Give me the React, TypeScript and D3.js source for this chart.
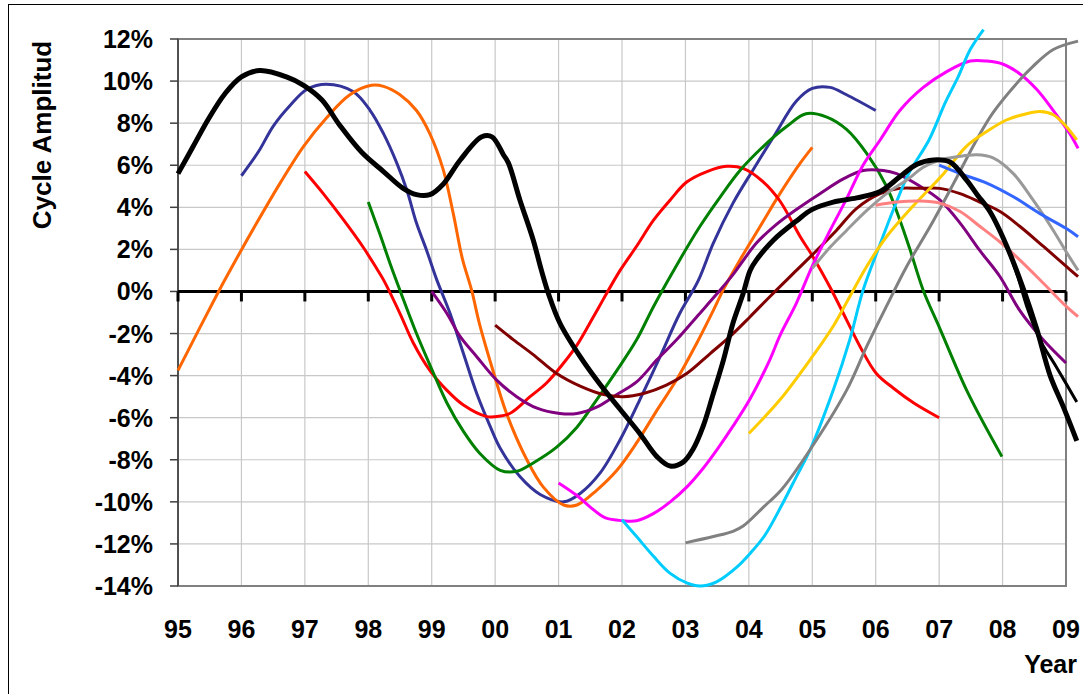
import React from "react";
import * as d3 from "d3";

type Pt = [number, number];

const yearTicks = [1995, 1996, 1997, 1998, 1999, 2000, 2001, 2002, 2003, 2004, 2005, 2006, 2007, 2008, 2009];
const yearLabels = ["95", "96", "97", "98", "99", "00", "01", "02", "03", "04", "05", "06", "07", "08", "09"];
const valueTicks = [-14, -12, -10, -8, -6, -4, -2, 0, 2, 4, 6, 8, 10, 12];
const valueLabels = ["-14%", "-12%", "-10%", "-8%", "-6%", "-4%", "-2%", "0%", "2%", "4%", "6%", "8%", "10%", "12%"];

const blackMain: Pt[] = [
  [1995.0, 5.6], [1995.24, 6.9], [1995.48, 8.2], [1995.74, 9.4], [1996.0, 10.2], [1996.29, 10.5],
  [1996.71, 10.2], [1996.98, 9.8], [1997.27, 9.1], [1997.55, 7.9], [1997.9, 6.6], [1998.24, 5.7],
  [1998.55, 4.9], [1998.76, 4.6], [1998.97, 4.6], [1999.18, 5.1], [1999.45, 6.25], [1999.79, 7.35],
  [1999.95, 7.35], [2000.13, 6.5], [2000.21, 6.1], [2000.39, 4.35], [2000.6, 2.45], [2000.73, 1.0],
  [2000.84, -0.1], [2001.02, -1.5], [2001.34, -3.1], [2001.65, -4.4], [2001.97, -5.6], [2002.28, -6.75],
  [2002.55, -7.85], [2002.76, -8.3], [2002.97, -8.1], [2003.12, -7.5], [2003.28, -6.4], [2003.44, -4.85],
  [2003.6, -3.25], [2003.75, -1.5], [2003.91, -0.1], [2004.02, 1.0], [2004.12, 1.5], [2004.39, 2.45],
  [2004.75, 3.35], [2005.0, 3.9], [2005.33, 4.25], [2005.7, 4.45], [2006.07, 4.75], [2006.38, 5.45],
  [2006.65, 6.05], [2006.91, 6.25], [2007.17, 6.15], [2007.43, 5.3], [2007.6, 4.6], [2007.8, 3.8],
  [2008.06, 2.2], [2008.33, 0.1], [2008.54, -1.8], [2008.75, -4.0], [2008.96, -5.5], [2009.17, -7.1],
];
const blackThin: Pt[] = [
  [2007.6, 4.6], [2007.8, 3.8], [2008.06, 2.2], [2008.25, 0.6], [2008.38, -0.7], [2008.59, -2.3],
  [2008.85, -3.6], [2009.17, -5.25],
];
const navy: Pt[] = [
  [1996.0, 5.5], [1996.27, 6.65], [1996.5, 7.85], [1996.77, 8.85], [1997.03, 9.6], [1997.34, 9.85],
  [1997.76, 9.5], [1998.03, 8.6], [1998.24, 7.5], [1998.45, 6.1], [1998.61, 4.8], [1998.76, 3.25],
  [1998.92, 1.95], [1999.08, 0.55], [1999.29, -1.05], [1999.5, -2.95], [1999.71, -4.85], [1999.92, -6.4],
  [2000.08, -7.45], [2000.39, -8.8], [2000.71, -9.65], [2001.08, -10.0], [2001.34, -9.6], [2001.65, -8.65],
  [2001.97, -7.05], [2002.28, -5.15], [2002.6, -3.1], [2002.91, -1.05], [2003.2, 0.5], [2003.44, 2.3],
  [2003.75, 4.2], [2004.07, 5.8], [2004.39, 7.35], [2004.75, 9.05], [2005.0, 9.65], [2005.28, 9.7],
  [2005.54, 9.35], [2006.0, 8.6],
];
const orange: Pt[] = [
  [1995.0, -3.75], [1995.64, 0.0], [1995.82, 1.0], [1996.24, 3.25], [1996.61, 5.15], [1996.98, 6.9],
  [1997.34, 8.25], [1997.71, 9.35], [1998.05, 9.8], [1998.24, 9.75], [1998.5, 9.35], [1998.76, 8.6],
  [1998.97, 7.5], [1999.18, 5.8], [1999.34, 3.7], [1999.48, 1.6], [1999.63, 0.05], [1999.75, -1.5],
  [1999.95, -3.6], [2000.18, -5.8], [2000.5, -8.0], [2000.76, -9.3], [2001.08, -10.15], [2001.29, -10.15],
  [2001.6, -9.45], [2001.92, -8.5], [2002.23, -7.2], [2002.55, -5.65], [2002.86, -4.2], [2003.18, -2.45],
  [2003.44, -0.9], [2003.6, 0.1], [2003.86, 1.5], [2004.18, 3.1], [2004.49, 4.65], [2004.81, 6.1], [2005.0, 6.85],
];
const red: Pt[] = [
  [1997.0, 5.7], [1997.29, 4.65], [1997.61, 3.4], [1997.92, 2.1], [1998.13, 1.1], [1998.24, 0.55],
  [1998.5, -1.05], [1998.71, -2.45], [1998.97, -3.75], [1999.24, -4.7], [1999.5, -5.4], [1999.87, -5.95],
  [2000.0, -5.95], [2000.23, -5.8], [2000.55, -5.0], [2000.81, -4.35], [2001.08, -3.4], [2001.29, -2.55],
  [2001.55, -1.2], [2001.7, -0.4], [2001.97, 1.0], [2002.23, 2.15], [2002.5, 3.4], [2002.76, 4.35],
  [2003.02, 5.2], [2003.34, 5.7], [2003.65, 5.95], [2003.91, 5.85], [2004.23, 5.2], [2004.49, 4.3],
  [2004.81, 2.6], [2005.0, 1.7], [2005.28, 0.2], [2005.54, -1.35], [2005.75, -2.6], [2006.01, -3.9],
  [2006.28, -4.6], [2006.6, -5.3], [2007.0, -6.0],
];
const green: Pt[] = [
  [1998.0, 4.25], [1998.18, 2.75], [1998.37, 1.1], [1998.5, 0.05], [1998.76, -2.0], [1999.03, -3.9],
  [1999.24, -5.3], [1999.5, -6.65], [1999.76, -7.7], [2000.08, -8.5], [2000.34, -8.55], [2000.6, -8.15],
  [2000.97, -7.4], [2001.29, -6.45], [2001.6, -5.15], [2001.92, -3.75], [2002.23, -2.3], [2002.5, -0.7],
  [2002.91, 1.5], [2003.23, 3.1], [2003.55, 4.5], [2003.86, 5.75], [2004.23, 6.9], [2004.6, 7.85],
  [2004.9, 8.45], [2005.22, 8.3], [2005.54, 7.7], [2005.86, 6.55], [2006.17, 5.0], [2006.38, 3.4],
  [2006.54, 2.0], [2006.75, 0.05], [2007.01, -1.75], [2007.45, -4.8], [2007.99, -7.85],
];
const purple: Pt[] = [
  [1999.0, 0.0], [1999.24, -1.05], [1999.45, -2.15], [1999.71, -3.1], [2000.02, -4.2], [2000.34, -5.0],
  [2000.66, -5.55], [2001.02, -5.8], [2001.29, -5.8], [2001.6, -5.5], [2001.92, -4.9], [2002.23, -4.3],
  [2002.55, -3.25], [2002.86, -2.3], [2003.18, -1.2], [2003.5, -0.1], [2003.75, 0.8], [2004.12, 2.3],
  [2004.44, 3.2], [2004.75, 3.9], [2005.12, 4.65], [2005.49, 5.35], [2005.8, 5.75], [2006.12, 5.75],
  [2006.33, 5.6], [2006.7, 5.0], [2007.01, 4.35], [2007.33, 3.25], [2007.64, 1.95], [2007.96, 0.7],
  [2008.27, -0.9], [2008.64, -2.3], [2009.0, -3.4],
];
const maroon: Pt[] = [
  [2000.0, -1.6], [2000.29, -2.3], [2000.6, -3.0], [2000.97, -3.9], [2001.34, -4.5], [2001.71, -4.9],
  [2002.02, -5.0], [2002.34, -4.85], [2002.7, -4.45], [2003.02, -3.9], [2003.39, -2.95], [2003.7, -2.15],
  [2004.02, -1.2], [2004.33, -0.25], [2004.75, 1.0], [2005.07, 1.95], [2005.38, 2.9], [2005.7, 3.95],
  [2006.07, 4.65], [2006.38, 4.9], [2006.7, 4.9], [2007.01, 4.9], [2007.33, 4.65], [2007.64, 4.25],
  [2007.96, 3.8], [2008.27, 3.1], [2008.64, 2.15], [2009.0, 1.2], [2009.19, 0.7],
];
const magenta: Pt[] = [
  [2001.0, -9.1], [2001.29, -9.7], [2001.5, -10.25], [2001.73, -10.75], [2002.02, -10.9], [2002.23, -10.9],
  [2002.5, -10.55], [2002.76, -10.0], [2003.02, -9.3], [2003.28, -8.4], [2003.49, -7.55], [2003.75, -6.4],
  [2004.02, -5.1], [2004.33, -3.25], [2004.49, -2.1], [2004.75, -0.55], [2005.0, 1.2], [2005.28, 2.9],
  [2005.54, 4.4], [2005.8, 6.0], [2006.07, 7.2], [2006.38, 8.6], [2006.75, 9.7], [2007.12, 10.45],
  [2007.49, 10.95], [2007.75, 10.95], [2008.01, 10.8], [2008.27, 10.35], [2008.54, 9.6], [2008.8, 8.6],
  [2009.06, 7.5], [2009.19, 6.8],
];
const cyan: Pt[] = [
  [2002.0, -10.85], [2002.23, -11.65], [2002.5, -12.6], [2002.76, -13.4], [2003.02, -13.85], [2003.23, -14.0],
  [2003.49, -13.8], [2003.81, -13.1], [2004.02, -12.45], [2004.25, -11.6], [2004.52, -10.15], [2004.75, -8.8],
  [2004.97, -7.5], [2005.33, -4.7], [2005.59, -2.3], [2005.8, 0.05], [2006.05, 2.1], [2006.3, 4.05],
  [2006.52, 5.6], [2006.84, 7.2], [2007.1, 9.0], [2007.3, 10.2], [2007.49, 11.5], [2007.7, 12.45],
];
const gray: Pt[] = [
  [2003.0, -11.95], [2003.44, -11.65], [2003.75, -11.4], [2003.91, -11.15], [2004.23, -10.25], [2004.52, -9.4],
  [2004.97, -7.5], [2005.54, -4.7], [2005.86, -2.6], [2006.17, -0.7], [2006.49, 1.2], [2006.86, 3.1],
  [2007.23, 5.15], [2007.59, 7.2], [2007.85, 8.5], [2008.27, 10.05], [2008.48, 10.7], [2008.8, 11.5],
  [2009.19, 11.9],
];
const yellow: Pt[] = [
  [2004.0, -6.75], [2004.49, -5.15], [2005.0, -3.1], [2005.33, -1.65], [2005.59, -0.25], [2005.86, 1.2],
  [2006.17, 2.6], [2006.57, 4.0], [2007.07, 5.6], [2007.43, 6.9], [2007.75, 7.6], [2008.06, 8.15],
  [2008.38, 8.45], [2008.59, 8.55], [2008.8, 8.4], [2009.0, 7.85], [2009.17, 7.2],
];
const pink: Pt[] = [
  [2006.0, 4.1], [2006.33, 4.25], [2006.7, 4.3], [2007.01, 4.2], [2007.33, 3.8], [2007.64, 3.1],
  [2007.96, 2.35], [2008.27, 1.5], [2008.64, 0.4], [2009.0, -0.7], [2009.19, -1.2],
];
const silver: Pt[] = [
  [2005.0, 1.1], [2005.28, 2.1], [2005.54, 2.9], [2005.86, 3.85], [2006.17, 4.65], [2006.49, 5.3],
  [2006.75, 5.9], [2007.01, 6.25], [2007.28, 6.4], [2007.59, 6.5], [2007.85, 6.35], [2008.17, 5.6],
  [2008.48, 4.35], [2008.8, 2.9], [2009.0, 1.9], [2009.19, 1.0],
];
const blue: Pt[] = [
  [2007.0, 6.0], [2007.33, 5.6], [2007.75, 5.15], [2008.17, 4.5], [2008.59, 3.7], [2009.0, 3.0], [2009.19, 2.6],
];

const series = [
  { data: navy, color: "#333399", width: 3 },
  { data: orange, color: "#FF6600", width: 3 },
  { data: red, color: "#FF0000", width: 3 },
  { data: green, color: "#008000", width: 3 },
  { data: purple, color: "#800080", width: 3 },
  { data: maroon, color: "#800000", width: 3 },
  { data: magenta, color: "#FF00FF", width: 3 },
  { data: cyan, color: "#00CCFF", width: 3 },
  { data: gray, color: "#808080", width: 3 },
  { data: yellow, color: "#FFCC00", width: 3 },
  { data: pink, color: "#FF8080", width: 3 },
  { data: silver, color: "#999999", width: 3 },
  { data: blue, color: "#3366FF", width: 3 },
  { data: blackThin, color: "#000000", width: 3 },
  { data: blackMain, color: "#000000", width: 5 },
];

const W = 1083;
const H = 694;
const L = 178, R = 1066, T = 39, B = 586;

export default function App() {
  const x = d3.scaleLinear().domain([1995, 2009]).range([L, R]);
  const y = d3.scaleLinear().domain([-14, 12]).range([B, T]);
  const line = d3
    .line<Pt>()
    .x((d) => x(d[0]))
    .y((d) => y(d[1]))
    .curve(d3.curveCatmullRom.alpha(0.5));
  const font = "'Liberation Sans', Arial, sans-serif";
  return (
    <svg
      width={W}
      height={H}
      style={{ position: "absolute", left: 0, top: 0, background: "#fff" }}
      fontFamily={font}
    >
      <rect x={0} y={0} width={W} height={H} fill="#fff" />
      <rect x={8.5} y={4.5} width={W + 20} height={H + 20} fill="none" stroke="#000" strokeWidth={1} />
      {/* grid */}
      {valueTicks.map((v) => (
        <line key={"h" + v} x1={L} x2={R} y1={y(v)} y2={y(v)} stroke="#C8C8C8" strokeWidth={1.2} />
      ))}
      {yearTicks.map((t) => (
        <line key={"v" + t} x1={x(t)} x2={x(t)} y1={T} y2={B} stroke="#C8C8C8" strokeWidth={1.2} />
      ))}
      {/* plot border */}
      <rect x={L} y={T} width={R - L} height={B - T} fill="none" stroke="#808080" strokeWidth={2} />
      {/* left axis */}
      <line x1={L} x2={L} y1={T} y2={B} stroke="#404040" strokeWidth={1.5} />
      {valueTicks.map((v) => (
        <line key={"yt" + v} x1={L - 8} x2={L} y1={y(v)} y2={y(v)} stroke="#404040" strokeWidth={1.5} />
      ))}
      {valueTicks.map((v, i) => (
        <text
          key={"yl" + v}
          x={153}
          y={y(v)}
          dy="0.36em"
          textAnchor="end"
          fontSize={25}
          fontWeight="bold"
        >
          {valueLabels[i]}
        </text>
      ))}
      {/* zero axis */}
      <line x1={L} x2={R} y1={y(0)} y2={y(0)} stroke="#000" strokeWidth={3} />
      {yearTicks.map((t) => (
        <line key={"xt" + t} x1={x(t)} x2={x(t)} y1={y(0)} y2={y(0) + 10} stroke="#000" strokeWidth={3} />
      ))}
      {/* x labels */}
      {yearTicks.map((t, i) => (
        <text key={"xl" + t} x={x(t)} y={638} textAnchor="middle" fontSize={25} fontWeight="bold">
          {yearLabels[i]}
        </text>
      ))}
      <text x={1077} y={673} textAnchor="end" fontSize={25} fontWeight="bold">
        Year
      </text>
      <text
        transform="translate(51,135) rotate(-90)"
        textAnchor="middle"
        fontSize={26}
        fontWeight="bold"
      >
        Cycle Amplitud
      </text>
      {/* series */}
      {series.map((s, i) => (
        <path
          key={"s" + i}
          d={line(s.data) || ""}
          fill="none"
          stroke={s.color}
          strokeWidth={s.width}
          strokeLinejoin="round"
          strokeLinecap="butt"
        />
      ))}
    </svg>
  );
}
